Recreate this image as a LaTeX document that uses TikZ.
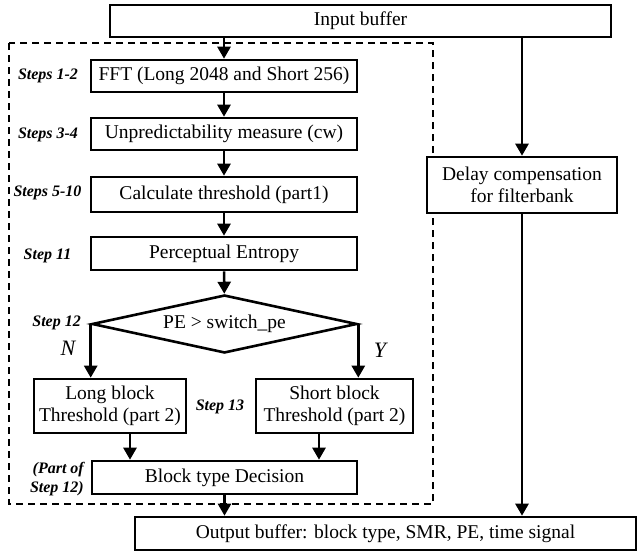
\documentclass[tikz,border=0pt]{standalone}
\usepackage{fontspec}
\setmainfont{Liberation Serif}
\usetikzlibrary{arrows.meta,shapes.geometric}
\tikzset{
  box/.style={draw, line width=2.6pt, fill=white, inner sep=1pt, align=center,
    font=\fontsize{19.5}{21.5}\selectfont},
  arr/.style={line width=2.6pt, -{Triangle[width=13pt,length=12pt]}},
  steplbl/.style={inner sep=0pt, font=\fontsize{16}{18.5}\selectfont\bfseries\itshape},
  yn/.style={inner sep=0pt, font=\fontsize{22}{24}\selectfont\itshape},
}
\begin{document}
\begin{tikzpicture}[x=1pt,y=-1pt]
\useasboundingbox (0,0) rectangle (638,554);
% dashed frame
\draw[line width=1.6pt, dash pattern=on 7pt off 5pt] (9,43) rectangle (433,504);
% boxes
\node[box, minimum width=501, minimum height=32] (ib) at (360.5,21) {Input buffer};
\node[box, minimum width=266, minimum height=32] (fft) at (224,76) {FFT (Long 2048 and Short 256)};
\node[box, minimum width=266, minimum height=32] (unp) at (224,134) {Unpredictability measure (cw)};
\node[box, minimum width=266, minimum height=35] (calc) at (224,194.5) {Calculate threshold (part1)};
\node[box, minimum width=266, minimum height=33] (pe) at (224,253.5) {Perceptual Entropy};
\node[box, diamond, shape aspect=4.57, minimum width=265, minimum height=58, inner sep=0pt] (dec) at (224.5,324) {PE > switch\_pe};
\node[box, minimum width=152, minimum height=54] (lb) at (110,406) {Long block\\Threshold (part 2)};
\node[box, minimum width=157, minimum height=54] (sb) at (334.5,406) {Short block\\Threshold (part 2)};
\node[box, minimum width=265, minimum height=33] (btd) at (224.5,477.5) {Block type Decision};
\node[box, minimum width=501, minimum height=33] (ob) at (385.5,533.5) {Output buffer: block type, SMR, PE, time signal};
\node[box, minimum width=190, minimum height=56] (dly) at (522,185) {Delay compensation\\for filterbank};
% labels
\node[steplbl] (l1) at (48,76) {Steps 1-2};
\node[steplbl] (l2) at (48,135) {Steps 3-4};
\node[steplbl] (l3) at (47.5,193) {Steps 5-10};
\node[steplbl] (l4) at (47.5,256) {Step 11};
\node[steplbl, anchor=east] (l5) at (81,323) {Step 12};
\node[steplbl] (l6) at (220,407) {Step 13};
\node[steplbl, anchor=east, align=right] (l7) at (84,479) {(Part of\\Step 12)};
\node[yn] (nlab) at (68,348) {N};
\node[yn] (ylab) at (380,350) {Y};
% connectors
\draw[arr] (fft.north |- ib.south) -- (fft.north);
\draw[arr] (fft) -- (unp);
\draw[arr] (unp) -- (calc);
\draw[arr] (calc) -- (pe);
\draw[arr] (pe) -- (dec);
\draw[arr] (dec.west) -- (dec.west |- lb.north);
\draw[arr] (dec.east) -- (dec.east |- sb.north);
\draw[arr] ([xshift=20pt]lb.south) -- ([xshift=20pt]lb.south |- btd.north);
\draw[arr] ([xshift=-15.5pt]sb.south) -- ([xshift=-15.5pt]sb.south |- btd.north);
\draw[arr] (btd.south) -- (btd.south |- ob.north);
\draw[arr] (dly.north |- ib.south) -- (dly.north);
\draw[arr] (dly.south) -- (dly.south |- ob.north);
\end{tikzpicture}
\end{document}
